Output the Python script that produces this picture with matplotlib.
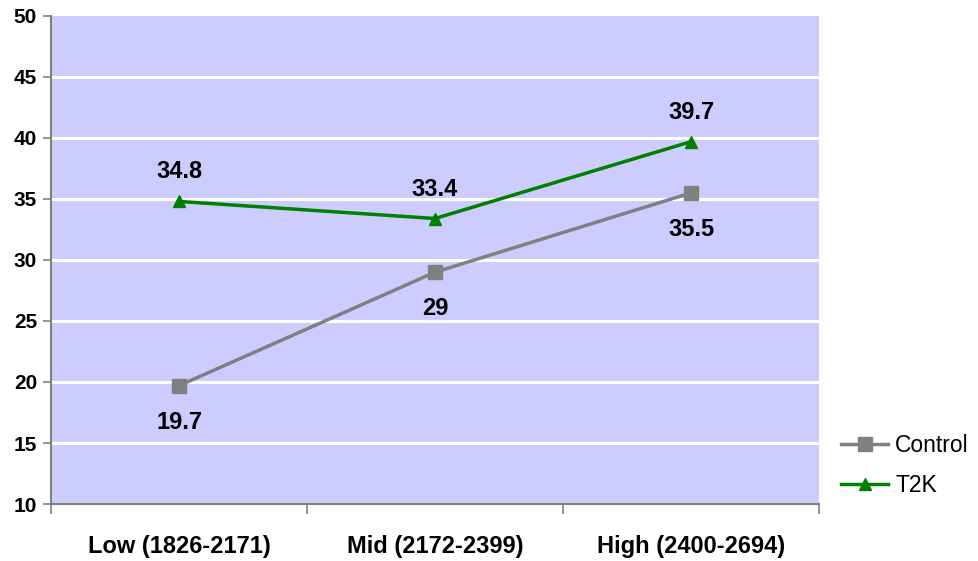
import matplotlib.pyplot as plt
import numpy as np
from matplotlib import rcParams

rcParams['font.family'] = ['Liberation Sans', 'DejaVu Sans']

# data
categories = ['Low (1826-2171)', 'Mid (2172-2399)', 'High (2400-2694)']
control = [19.7, 29, 35.5]
t2k = [34.8, 33.4, 39.7]
control_labels = ['19.7', '29', '35.5']
t2k_labels = ['34.8', '33.4', '39.7']

fig = plt.figure(figsize=(9.79, 5.61), dpi=100)
ax = fig.add_axes([0.0521, 0.1016, 0.7845, 0.8699])
ax.set_facecolor('#ccccff')

x = np.arange(len(categories))

# grid
for yv in range(15, 50, 5):
    ax.axhline(yv, color='white', lw=2.2, zorder=1)

ax.plot(x, control, color='#808080', lw=2.5, marker='s', markersize=10,
        label='Control', zorder=3)
ax.plot(x, t2k, color='#008000', lw=2.5, marker='^', markersize=8.5,
        label='T2K', zorder=3)

for xi, yi, s in zip(x, t2k, t2k_labels):
    ax.annotate(s, (xi, yi), xytext=(0, 18), textcoords='offset pixels',
                ha='center', va='bottom', fontsize=17, fontweight='bold')
for xi, yi, s in zip(x, control, control_labels):
    ax.annotate(s, (xi, yi), xytext=(0, -25), textcoords='offset pixels',
                ha='center', va='top', fontsize=17, fontweight='bold')

ax.set_xlim(-0.5, 2.5)
ax.set_ylim(10, 50)
ax.set_yticks(range(10, 55, 5))
ax.set_xticks(x)
ax.set_xticklabels(categories, fontsize=17, fontweight='bold')
ax.set_xticks([-0.5, 0.5, 1.5, 2.5], minor=True)
ax.tick_params(axis='x', which='major', length=0, pad=22)
ax.tick_params(axis='x', which='minor', length=7, color='#808080', width=1.2)
ax.tick_params(axis='y', length=6, color='#808080', width=1.2, labelsize=15, pad=4)
for lab in ax.get_yticklabels():
    lab.set_fontweight('bold')

for side in ['top', 'right']:
    ax.spines[side].set_visible(False)
for side in ['left', 'bottom']:
    ax.spines[side].set_color('#808080')
    ax.spines[side].set_linewidth(1.5)

fig.legend(loc='center left', bbox_to_anchor=(0.8475, 0.17), frameon=False,
           fontsize=16.5, handlelength=2.05, handletextpad=0.3, labelspacing=0.75,
           borderpad=0)

plt.savefig('out.png')
